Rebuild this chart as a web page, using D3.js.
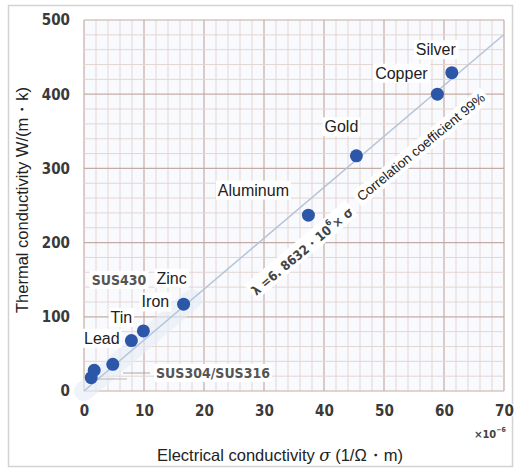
<!DOCTYPE html>
<html><head><meta charset="utf-8">
<script src="https://cdn.jsdelivr.net/npm/d3@7/dist/d3.min.js"></script>
<style>
html,body{margin:0;padding:0;background:#fff;}
svg{display:block;}
</style></head>
<body>
<script>
// ---- data ----
const materials = ["Silver","Copper","Gold","Aluminum","Zinc","Iron","Tin","Lead","SUS430","SUS304/SUS316"];
const elecCond  = [61.3, 58.9, 45.4, 37.4, 16.6, 9.9, 7.9, 4.8, 1.7, 1.2];   // ×10^6 1/(Ω·m)
const thermCond = [429, 400, 317, 237, 117, 81, 68, 36, 28, 18];             // W/(m·K)
const xTicks = [0,10,20,30,40,50,60,70];
const yTicks = [0,100,200,300,400,500];
const slope = 6.8632;

// ---- presentation ----
const W = 518, H = 471;
const svg = d3.select("body").append("svg").attr("width", W).attr("height", H);
const x = d3.scaleLinear().domain([0,70]).range([84,504]);
const y = d3.scaleLinear().domain([0,500]).range([391,20]);
const sans = "'Liberation Sans', Arial, Helvetica, sans-serif";
const narrow = "'Liberation Sans Narrow', 'DejaVu Sans Condensed', 'Liberation Sans', sans-serif";

// outer frame
svg.append("rect").attr("x",8.5).attr("y",5.5).attr("width",504).attr("height",461)
  .attr("fill","#fff").attr("stroke","#d2d2d2").attr("stroke-width",1.5);

// plot background
svg.append("rect").attr("x",x(0)).attr("y",y(500)).attr("width",x(70)-x(0)).attr("height",y(0)-y(500))
  .attr("fill","#f9fafd");

// grid
const g = svg.append("g");
g.selectAll(".vmin").data(d3.range(0,71,2)).join("line")
  .attr("x1",d=>x(d)).attr("x2",d=>x(d)).attr("y1",y(0)).attr("y2",y(500))
  .attr("stroke",d=> d%10===0 ? "#c4aca6" : "#e3d6d3").attr("stroke-width",d=> d%10===0 ? 1.2 : 1);
g.selectAll(".hmin").data(d3.range(0,501,20)).join("line")
  .attr("y1",d=>y(d)).attr("y2",d=>y(d)).attr("x1",x(0)).attr("x2",x(70))
  .attr("stroke",d=> d%100===0 ? "#c4aca6" : "#e3d6d3").attr("stroke-width",d=> d%100===0 ? 1.2 : 1);

// axes labels via d3 axes
function styleTicks(sel){
  sel.select(".domain").remove();
  sel.selectAll("text").attr("font-family",narrow).attr("font-weight","bold").attr("font-size",15)
    .attr("fill","#3a3a3a").attr("stroke","#fff").attr("stroke-width",2.5).attr("paint-order","stroke");
}
const xAxis = svg.append("g").attr("transform",`translate(0,${y(0)+11})`)
  .call(d3.axisBottom(x).tickValues(xTicks).tickSize(0).tickFormat(d3.format("d")));
styleTicks(xAxis);
const yAxis = svg.append("g").attr("transform",`translate(${x(0)-11},0)`)
  .call(d3.axisLeft(y).tickValues(yTicks).tickSize(0).tickFormat(d3.format("d")));
styleTicks(yAxis);

// glow band + regression line
svg.append("line").attr("x1",x(0)).attr("y1",y(0)).attr("x2",x(18)).attr("y2",y(slope*18))
  .attr("stroke","#e6eef8").attr("stroke-width",20).attr("stroke-linecap","round").attr("opacity",0.6);
svg.append("line").attr("x1",x(0)).attr("y1",y(0)).attr("x2",x(70)).attr("y2",y(slope*70))
  .attr("stroke","#b4c3da").attr("stroke-width",1.5);

// leader lines for SUS304/SUS316
svg.append("line").attr("x1",123).attr("x2",150).attr("y1",373).attr("y2",373).attr("stroke","#a8a8a8").attr("stroke-width",1);
svg.append("line").attr("x1",98).attr("x2",127).attr("y1",379).attr("y2",379).attr("stroke","#b8b8b8").attr("stroke-width",1);

// helper for labels with white background
function label(text, cx, cy, opts){
  const o = Object.assign({size:16, family:sans, weight:"normal", fill:"#222", rot:0, pad:2}, opts||{});
  const grp = svg.append("g").attr("transform",`translate(${cx},${cy}) rotate(${o.rot})`);
  const r = grp.append("rect").attr("fill","#fff");
  const t = grp.append("text").attr("text-anchor","middle").attr("dominant-baseline","central")
    .attr("font-family",o.family).attr("font-weight",o.weight).attr("font-size",o.size).attr("fill",o.fill);
  if (Array.isArray(text)) text.forEach(s=>t.append("tspan").attr("font-style",s.italic?"italic":null)
      .attr("baseline-shift",s.sup?"super":null).attr("font-size",s.sup?o.size*0.65:null).text(s.t));
  else t.text(text);
  const b = t.node().getBBox();
  r.attr("x",b.x-o.pad).attr("y",b.y-1).attr("width",b.width+2*o.pad).attr("height",b.height+2);
  return grp;
}

// points
const pts = materials.map((m,i)=>({m, s:elecCond[i], k:thermCond[i]}));
const labelOffset = {
  "Silver":[-16,-23], "Copper":[-36,-21], "Gold":[-15,-29], "Aluminum":[-55,-25],
  "Zinc":[-12,-26], "Iron":[12,-29], "Tin":[-10,-23], "Lead":[-11,-26]
};
pts.forEach(p=>{
  const off = labelOffset[p.m];
  if (off) label(p.m, x(p.s)+off[0], y(p.k)+off[1]);
});
label("SUS430", 119, 280, {family:narrow, weight:"bold", size:14, fill:"#555"});
label("SUS304/SUS316", 213, 373, {family:narrow, weight:"bold", size:14, fill:"#555"});

svg.selectAll("circle.pt").data(pts).join("circle").attr("class","pt")
  .attr("cx",d=>x(d.s)).attr("cy",d=>y(d.k)).attr("r",6.5).attr("fill","#2c57a9");

// rotated annotations
label([{t:"λ =6. 8632・10"},{t:"6",sup:true},{t:"× σ"}], 302, 251,
  {family:narrow, weight:"bold", size:13, fill:"#444", rot:-40});
label("Correlation coefficient 99%", 421, 147, {size:13.5, fill:"#222", rot:-39.5, pad:3});

// axis titles
svg.append("text").attr("transform","translate(22,200) rotate(-90)").attr("text-anchor","middle")
  .attr("dominant-baseline","central").attr("font-family",sans).attr("font-size",16.5).attr("fill","#222")
  .text("Thermal conductivity W/(m・k)");
const xt = svg.append("text").attr("x",280).attr("y",455).attr("text-anchor","middle")
  .attr("dominant-baseline","central").attr("font-family",sans).attr("font-size",16.5).attr("fill","#222");
xt.append("tspan").text("Electrical conductivity ");
xt.append("tspan").attr("font-style","italic").attr("font-family","'DejaVu Serif', serif").text("σ");
xt.append("tspan").text(" (1/Ω・m)");

const mult = svg.append("text").attr("x",490).attr("y",434).attr("text-anchor","middle")
  .attr("dominant-baseline","central").attr("font-family",narrow).attr("font-weight","bold")
  .attr("font-size",11).attr("fill","#444");
mult.append("tspan").text("×10");
mult.append("tspan").attr("baseline-shift","super").attr("font-size",7).text("−6");
</script>
</body></html>
